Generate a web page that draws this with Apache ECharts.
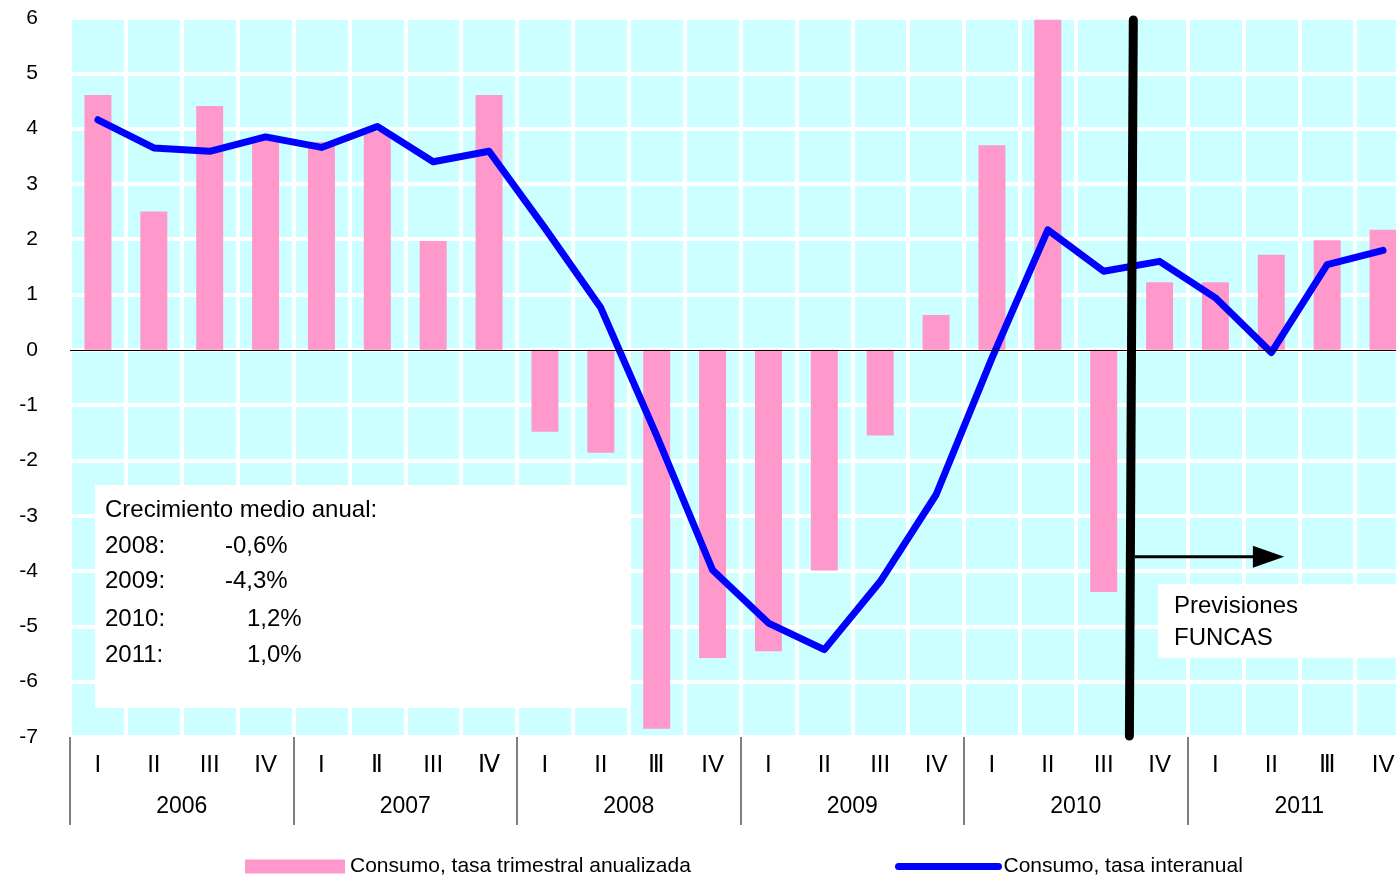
<!DOCTYPE html>
<html>
<head>
<meta charset="utf-8">
<title>Consumo</title>
<script src="https://cdn.jsdelivr.net/npm/echarts@6/dist/echarts.min.js"></script>
<style>
  html, body { margin: 0; padding: 0; background: #ffffff; overflow: hidden; }
  #chart { width: 1396px; height: 877px; }
</style>
</head>
<body>
<div id="chart"></div>
<script>
// Quarterly labels and year groups
const quarters = ['I', 'II', 'III', 'IV', 'I', 'Ⅱ', 'III', 'Ⅳ', 'I', 'II', 'Ⅲ', 'IV',
                  'I', 'II', 'III', 'IV', 'I', 'II', 'III', 'IV', 'I', 'II', 'Ⅲ', 'IV'];
const years = ['2006', '2007', '2008', '2009', '2010', '2011'];

// Consumo, tasa trimestral anualizada (%)
const annualizedRate = [4.61, 2.5, 4.41, 3.82, 3.76, 3.95, 1.97, 4.61,
                        -1.48, -1.86, -6.85, -5.57, -5.45, -3.99, -1.55, 0.63,
                        3.7, 5.97, -4.38, 1.22, 1.22, 1.72, 1.98, 2.17];
// Consumo, tasa interanual (%)
const yearOnYearRate = [4.16, 3.65, 3.59, 3.85, 3.66, 4.04, 3.4, 3.59,
                        2.2, 0.76, -1.55, -3.98, -4.94, -5.42, -4.19, -2.62,
                        -0.15, 2.17, 1.42, 1.6, 0.94, -0.05, 1.54, 1.8];

// Average annual growth box
const summaryTitle = 'Crecimiento medio anual:';
const summaryYears = ['2008:', '2009:', '2010:', '2011:'];
const summaryValues = ['-0,6%', '-4,3%', '1,2%', '1,0%'];

const forecastLabel = ['Previsiones', 'FUNCAS'];
const seriesNames = ['Consumo, tasa trimestral anualizada', 'Consumo, tasa interanual'];

const FONT = '"Liberation Sans", Arial, sans-serif';

const chart = echarts.init(document.getElementById('chart'));

const legendText = { fontFamily: FONT, fontSize: 21, color: '#000' };

chart.setOption({
  animation: false,
  backgroundColor: '#ffffff',
  textStyle: { fontFamily: FONT, color: '#000' },
  // the last quarter runs a little past the right edge of the canvas
  grid: {
    left: 70, width: 1341, top: 18, bottom: 140,
    outerBoundsMode: 'none',
    containLabel: false,
    show: true, backgroundColor: '#ccffff', borderWidth: 0
  },
  legend: [
    {
      left: 240, top: 851,
      itemWidth: 100, itemHeight: 14,
      textStyle: legendText,
      data: [{ name: seriesNames[0], icon: 'rect' }]
    },
    {
      left: 890, top: 851,
      itemWidth: 100, itemHeight: 14,
      textStyle: legendText,
      data: [{
        name: seriesNames[1],
        itemStyle: { opacity: 0 },
        lineStyle: { width: 7, cap: 'round', color: '#0000ff' }
      }]
    }
  ],
  xAxis: [
    {
      type: 'category',
      data: quarters,
      position: 'bottom',
      axisLine: { show: false },
      axisTick: { show: false },
      axisLabel: { interval: 0, margin: 16, fontSize: 24, color: '#000', fontFamily: FONT },
      splitLine: { show: true, interval: 0, lineStyle: { color: '#ffffff', width: 4 } }
    },
    {
      type: 'category',
      data: years,
      position: 'bottom',
      axisLine: { show: false },
      axisTick: { show: true, length: 88, lineStyle: { color: '#555555', width: 1.5 } },
      axisLabel: { margin: 58, fontSize: 23, color: '#000', fontFamily: FONT },
      splitLine: { show: false }
    }
  ],
  yAxis: {
    type: 'value',
    min: -7, max: 6, interval: 1,
    axisLine: { show: false },
    axisTick: { show: false },
    axisLabel: { margin: 32, fontSize: 21, color: '#000', fontFamily: FONT },
    splitLine: { show: true, lineStyle: { color: '#ffffff', width: 4 } }
  },
  series: [
    {
      name: seriesNames[0],
      type: 'bar',
      xAxisIndex: 0,
      data: annualizedRate,
      barWidth: 27,
      itemStyle: { color: '#ff99cc' },
      markLine: {
        silent: true,
        symbol: 'none',
        label: { show: false },
        lineStyle: { color: '#000000', width: 1.2, type: 'solid' },
        data: [{ yAxis: 0 }]
      },
      z: 2
    },
    {
      name: seriesNames[1],
      type: 'line',
      xAxisIndex: 0,
      data: yearOnYearRate,
      symbol: 'none',
      lineStyle: { color: '#0000ff', width: 7, cap: 'round', join: 'round' },
      itemStyle: { color: '#0000ff' },
      z: 4
    }
  ]
});

// Pixel position for a fractional category index and a value
function px(idx, val) {
  const i0 = Math.floor(idx);
  const a = chart.convertToPixel({ xAxisIndex: 0, yAxisIndex: 0 }, [i0, val]);
  const b = chart.convertToPixel({ xAxisIndex: 0, yAxisIndex: 0 }, [i0 + 1, val]);
  const f = idx - i0;
  return [a[0] + (b[0] - a[0]) * f, a[1]];
}

// Forecast divider, arrow and text boxes
const topPt = px(18.53, 6);
const botPt = px(18.46, -7);
const arrowStart = px(18.56, -3.74);
const arrowHeadBase = px(20.67, -3.74);
const arrowTip = px(21.23, -3.74);

const summaryFont = '24px ' + FONT;
const summaryChildren = [
  { type: 'rect', shape: { x: 95, y: 485, width: 535, height: 223 }, style: { fill: '#ffffff' } },
  { type: 'text', style: { x: 105, y: 510, text: summaryTitle, font: summaryFont, fill: '#000', textVerticalAlign: 'middle' } }
];
const rowY = [546, 581, 619, 655];
const valueX = [225, 225, 247, 247];
summaryYears.forEach(function (y, k) {
  summaryChildren.push({ type: 'text', style: { x: 105, y: rowY[k], text: y, font: summaryFont, fill: '#000', textVerticalAlign: 'middle' } });
  summaryChildren.push({ type: 'text', style: { x: valueX[k], y: rowY[k], text: summaryValues[k], font: summaryFont, fill: '#000', textVerticalAlign: 'middle' } });
});

chart.setOption({
  graphic: [
    { type: 'group', z: 10, children: summaryChildren },
    {
      type: 'group', z: 10, children: [
        { type: 'rect', shape: { x: 1158, y: 584, width: 250, height: 74 }, style: { fill: '#ffffff' } },
        { type: 'text', style: { x: 1174, y: 606, text: forecastLabel[0], font: summaryFont, fill: '#000', textVerticalAlign: 'middle' } },
        { type: 'text', style: { x: 1174, y: 638, text: forecastLabel[1], font: summaryFont, fill: '#000', textVerticalAlign: 'middle' } }
      ]
    },
    {
      type: 'line', z: 12,
      shape: { x1: topPt[0], y1: topPt[1] + 2, x2: botPt[0], y2: botPt[1] - 1 },
      style: { stroke: '#000000', lineWidth: 9, lineCap: 'round' }
    },
    {
      type: 'line', z: 12,
      shape: { x1: arrowStart[0], y1: arrowStart[1], x2: arrowHeadBase[0] + 2, y2: arrowHeadBase[1] },
      style: { stroke: '#000000', lineWidth: 3 }
    },
    {
      type: 'polygon', z: 12,
      shape: { points: [[arrowHeadBase[0], arrowHeadBase[1] - 11], [arrowTip[0], arrowTip[1]], [arrowHeadBase[0], arrowHeadBase[1] + 11]] },
      style: { fill: '#000000' }
    }
  ]
});
</script>
</body>
</html>
